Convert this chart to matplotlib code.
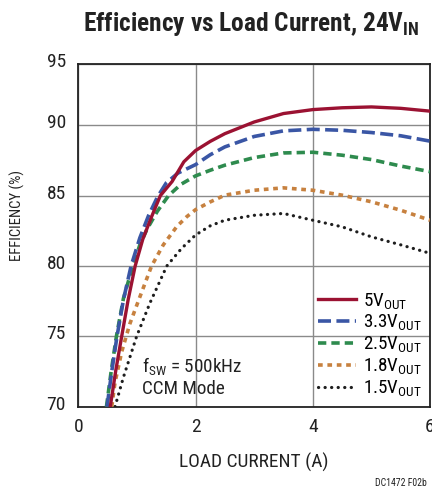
import matplotlib
matplotlib.use('Agg')
import matplotlib.pyplot as plt
import matplotlib.transforms as mtransforms
from matplotlib import font_manager

# pick a condensed sans family if one is installed, else Liberation Sans
FONT, STRETCH = 'Liberation Sans', 'normal'
entries = font_manager.fontManager.ttflist
names = {f.name for f in entries}
for cand in ['Liberation Sans Narrow', 'Roboto Condensed', 'Open Sans Condensed', 'Noto Sans Condensed']:
    if cand in names:
        FONT = cand
        break
else:
    for fam in ['Roboto', 'Noto Sans', 'Open Sans', 'DejaVu Sans']:
        cond = [f for f in entries if f.name == fam and
                (str(f.stretch) in ('condensed', 'semi-condensed', 'extra-condensed') or
                 (isinstance(f.stretch, (int, float)) and f.stretch < 500) or
                 'Condensed' in f.fname)]
        if cond:
            FONT, STRETCH = fam, 'condensed'
            break
plt.rcParams['font.family'] = [FONT, 'DejaVu Sans']
plt.rcParams['font.stretch'] = STRETCH
plt.rcParams['mathtext.default'] = 'regular'
narrow = FONT != 'Liberation Sans'

# ---- data ----
x_5v0 = [0.545, 0.64, 0.74, 0.85, 0.97, 1.1, 1.25, 1.4, 1.6, 1.8, 2.0, 2.25, 2.5, 3.0, 3.5, 4.0, 4.5, 5.0, 5.5, 6.0]
y_5v0 = [70, 72.6, 75, 77.6, 80, 81.9, 83.5, 85, 86.0, 87.4, 88.2, 88.85, 89.4, 90.23, 90.83, 91.11, 91.24, 91.3, 91.2, 91.0]

x_3v3 = [0.49, 0.57, 0.66, 0.77, 0.90, 1.05, 1.2, 1.35, 1.5, 1.7, 2.0, 2.25, 2.5, 3.0, 3.5, 4.0, 4.5, 5.0, 5.5, 6.0]
y_3v3 = [70, 72.5, 75, 77.6, 80, 82.0, 83.6, 84.9, 85.9, 86.6, 87.2, 87.9, 88.46, 89.2, 89.6, 89.71, 89.64, 89.48, 89.25, 88.87]

x_2v5 = [0.48, 0.56, 0.65, 0.77, 0.93, 1.05, 1.17, 1.35, 1.54, 1.75, 2.0, 2.25, 2.5, 3.0, 3.5, 4.0, 4.5, 5.0, 5.5, 6.0]
y_2v5 = [70, 72.5, 75, 77.7, 80, 81.5, 82.6, 83.9, 85.0, 85.8, 86.4, 86.8, 87.16, 87.7, 88.03, 88.08, 87.87, 87.56, 87.1, 86.7]

x_1v8 = [0.57, 0.625, 0.74, 0.88, 1.05, 1.25, 1.45, 1.68, 1.85, 2.0, 2.25, 2.5, 3.0, 3.5, 4.0, 4.5, 5.0, 5.5, 6.0]
y_1v8 = [70, 71.7, 73.9, 75.9, 77.8, 80, 81.5, 82.8, 83.5, 84.0, 84.55, 85.03, 85.38, 85.55, 85.38, 85.03, 84.56, 83.96, 83.25]

x_1v5 = [0.626, 0.77, 0.995, 1.22, 1.51, 1.76, 2.0, 2.25, 2.5, 3.0, 3.5, 4.0, 4.5, 5.0, 5.5, 6.0]
y_1v5 = [70, 72.1, 75, 77.35, 80, 81.24, 82.2, 82.85, 83.25, 83.6, 83.73, 83.25, 82.78, 82.07, 81.5, 80.9]

series_labels = ['5V$_{OUT}$', '3.3V$_{OUT}$', '2.5V$_{OUT}$', '1.8V$_{OUT}$', '1.5V$_{OUT}$']
x_ticks = [0, 2, 4, 6]
y_tick_labels = ['70', '75', '80', '85', '90', '95']
Y_MIN, Y_TOP = 70, 94.35
y_tick_vals = [70, 75, 80, 85, 90, Y_TOP]

# font sizes (narrow font can be larger for the same width)
k = 1.15 if narrow else 1.0
FS_TICK = 14 if narrow else 13
FS_LEG = 13 * (1.05 if narrow else 1.0)
FS_NOTE = 12 * k
FS_TITLE = 15.9 * k
FS_XLAB = 12.1 * k
FS_YLAB = 9.2 * k

# ---- figure ----
fig = plt.figure(figsize=(4.32, 4.95), dpi=100)
ax = fig.add_axes([0.1813, 0.1784, 0.8141, 0.6923])

styles = [
    dict(color='#9B1232', lw=2.4, ls='-'),
    dict(color='#3A56A5', lw=2.6, ls=(0, (3.6, 1.5))),
    dict(color='#2E8B4E', lw=2.6, ls=(0, (2.3, 1.4))),
    dict(color='#C7813F', lw=2.6, ls=(0, (1.3, 1.3))),
    dict(color='#1E1E1E', lw=2.3, ls=(0, (0.05, 2.0)), dash_capstyle='round'),
]
data = [(x_5v0, y_5v0), (x_3v3, y_3v3), (x_2v5, y_2v5), (x_1v8, y_1v8), (x_1v5, y_1v5)]
handles = [None] * 5
for i in [4, 3, 2, 1, 0]:
    xs, ys = data[i]
    ln, = ax.plot(xs, ys, label=series_labels[i], zorder=3 + (4 - i), **styles[i])
    handles[i] = ln

ax.set_xlim(0, 6)
ax.set_ylim(Y_MIN, Y_TOP)
ax.set_xticks(x_ticks)
ax.set_yticks(y_tick_vals)
ax.set_yticklabels(y_tick_labels)
ax.grid(True, color='#8a8a8a', lw=1.0)
ax.set_axisbelow(True)
ax.tick_params(length=0, labelsize=FS_TICK, colors='#222222')
ax.tick_params(axis='x', pad=8)
ax.tick_params(axis='y', pad=9)
for sp in ax.spines.values():
    sp.set_color('#222222')
    sp.set_linewidth(1.3)

off = mtransforms.ScaledTranslation(0, 4 / 100, fig.dpi_scale_trans)
for lab in ax.get_yticklabels():
    lab.set_transform(lab.get_transform() + off)

ax.legend(handles=handles, loc='lower right', bbox_to_anchor=(1.0, 0.0), frameon=False,
          fontsize=FS_LEG, handlelength=2.0, handletextpad=0.35, labelspacing=0.1,
          borderaxespad=0.05)

ax.text(0.181, 0.119, 'f$_{SW}$ = 500kHz', transform=ax.transAxes, fontsize=FS_NOTE,
        va='center', ha='left', color='#222222')
ax.text(0.181, 0.052, 'CCM Mode', transform=ax.transAxes, fontsize=FS_NOTE,
        va='center', ha='left', color='#222222')

fig.text(251 / 432, 1 - 24 / 495, 'Efficiency vs Load Current, 24V$_{IN}$',
         ha='center', va='center', fontsize=FS_TITLE, fontweight='bold', color='#222222')
fig.text(254 / 432, 1 - 462 / 495, 'LOAD CURRENT (A)', ha='center', va='center',
         fontsize=FS_XLAB, color='#222222')
fig.text(17 / 432, 1 - 216 / 495, 'EFFICIENCY (%)', ha='center', va='center',
         rotation=90, fontsize=FS_YLAB, color='#222222')
fig.text(427 / 432, 1 - 483 / 495, 'DC1472 F02b', ha='right', va='center',
         fontsize=7, color='#222222')

fig.savefig('out.png', dpi=100)
